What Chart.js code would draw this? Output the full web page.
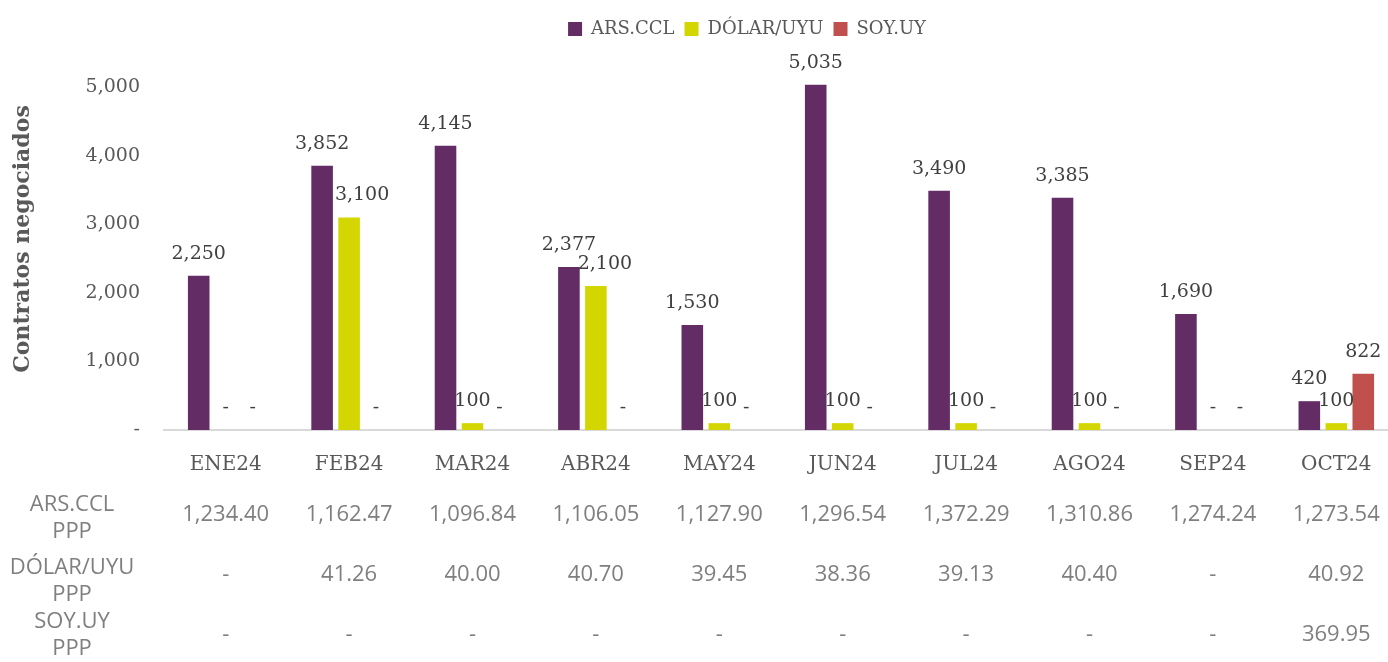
<!DOCTYPE html>
<html>
<head>
<meta charset="utf-8">
<script src="https://cdn.jsdelivr.net/npm/chart.js@4/dist/chart.umd.min.js"></script>
<style>
  html, body { margin: 0; padding: 0; overflow: hidden; background: #fff; }
  #wrap { width: 1400px; height: 662px; }
</style>
</head>
<body>
<div id="wrap"><canvas id="chart-1" width="1400" height="662"></canvas></div>
<script>
// categories and series
const months = ["ENE24", "FEB24", "MAR24", "ABR24", "MAY24", "JUN24", "JUL24", "AGO24", "SEP24", "OCT24"];
const arsCcl = [2250, 3852, 4145, 2377, 1530, 5035, 3490, 3385, 1690, 420];
const dolarUyu = [0, 3100, 100, 2100, 100, 100, 100, 100, 0, 100];
const soyUy = [0, 0, 0, 0, 0, 0, 0, 0, 0, 822];

// PPP table rows (null = "-")
const arsPpp = [1234.40, 1162.47, 1096.84, 1106.05, 1127.90, 1296.54, 1372.29, 1310.86, 1274.24, 1273.54];
const dolarPpp = [null, 41.26, 40.00, 40.70, 39.45, 38.36, 39.13, 40.40, null, 40.92];
const soyPpp = [null, null, null, null, null, null, null, null, null, 369.95];
const tableRows = [
  { label: ["ARS.CCL", "PPP"], values: arsPpp },
  { label: ["DÓLAR/UYU", "PPP"], values: dolarPpp },
  { label: ["SOY.UY", "PPP"], values: soyPpp },
];

const yTicks = [0, 1000, 2000, 3000, 4000, 5000];

const serif = "'DejaVu Serif', serif";
const sans = "'Open Sans', sans-serif";

const fmtInt = v => v === 0 ? "-" : v.toLocaleString("en-US");
const fmtDec = v => v === null ? "-" : v.toLocaleString("en-US", { minimumFractionDigits: 2, maximumFractionDigits: 2 });

// value labels above bars (a couple are nudged right, like the original)
const labelNudge = { "1-1": 13, "1-3": 9 };
const barLabels = {
  id: "barLabels",
  afterDatasetsDraw(chart) {
    const ctx = chart.ctx;
    ctx.save();
    ctx.font = "19px " + serif;
    ctx.fillStyle = "#404040";
    ctx.textAlign = "center";
    ctx.textBaseline = "middle";
    chart.data.datasets.forEach((ds, i) => {
      chart.getDatasetMeta(i).data.forEach((bar, j) => {
        const dx = labelNudge[i + "-" + j] || 0;
        ctx.fillText(fmtInt(ds.data[j]), bar.x + dx, bar.y - 22);
      });
    });
    ctx.restore();
  }
};

// data table under the x axis
const pppTable = {
  id: "pppTable",
  afterDraw(chart) {
    const ctx = chart.ctx;
    const x = chart.scales.x;
    const valueY = [515, 575, 635];
    const labelY = [[505, 532], [568, 595], [622, 649]];
    ctx.save();
    ctx.font = "22px " + sans;
    ctx.fillStyle = "#7f7f7f";
    ctx.textAlign = "center";
    ctx.textBaseline = "middle";
    tableRows.forEach((row, r) => {
      ctx.fillText(row.label[0], 72, labelY[r][0]);
      ctx.fillText(row.label[1], 72, labelY[r][1]);
      row.values.forEach((v, i) => {
        ctx.fillText(fmtDec(v), x.getPixelForValue(i), valueY[r]);
      });
    });
    ctx.restore();
  }
};

// the legend sits a bit right of the canvas centre in the original
const legendShift = {
  id: "legendShift",
  afterLayout(chart) {
    chart.legend.left += 48;
    chart.legend.right += 48;
  }
};

const ctx1 = document.getElementById("chart-1").getContext("2d");
const myChart = new Chart(ctx1, {
  type: "bar",
  data: {
    labels: months,
    datasets: [
      { label: "ARS.CCL", data: arsCcl, backgroundColor: "#632c65" },
      { label: "DÓLAR/UYU", data: dolarUyu, backgroundColor: "#d4d600" },
      { label: "SOY.UY", data: soyUy, backgroundColor: "#c0504d" },
    ],
  },
  options: {
    responsive: false,
    animation: false,
    datasets: {
      bar: { categoryPercentage: 0.656, barPercentage: 0.8 }
    },
    layout: { padding: { top: 10, right: 2, bottom: 184, left: 0 } },
    plugins: {
      legend: {
        position: "top",
        labels: {
          boxWidth: 14,
          boxHeight: 14,
          padding: 10,
          color: "#595959",
          font: { family: serif, size: 18 },
        },
      },
      tooltip: { enabled: false },
    },
    scales: {
      x: {
        grid: { display: false },
        border: { display: true, color: "#d9d9d9", width: 2 },
        ticks: { color: "#595959", padding: 15, font: { family: serif, size: 20 } },
        afterFit: s => { s.height = 48; },
      },
      y: {
        min: 0,
        max: 5570,
        grid: { display: false },
        border: { display: false },
        afterBuildTicks: s => { s.ticks = yTicks.map(v => ({ value: v })); },
        afterFit: s => { s.width = 164; },
        ticks: {
          color: "#595959",
          padding: 16,
          font: { family: serif, size: 19 },
          callback: v => fmtInt(v),
        },
        title: {
          display: true,
          text: "Contratos negociados",
          color: "#595959",
          padding: { top: 10, bottom: 0 },
          font: { family: serif, size: 22, weight: "bold" },
        },
      },
    },
  },
  plugins: [barLabels, pppTable, legendShift],
});
</script>
</body>
</html>
